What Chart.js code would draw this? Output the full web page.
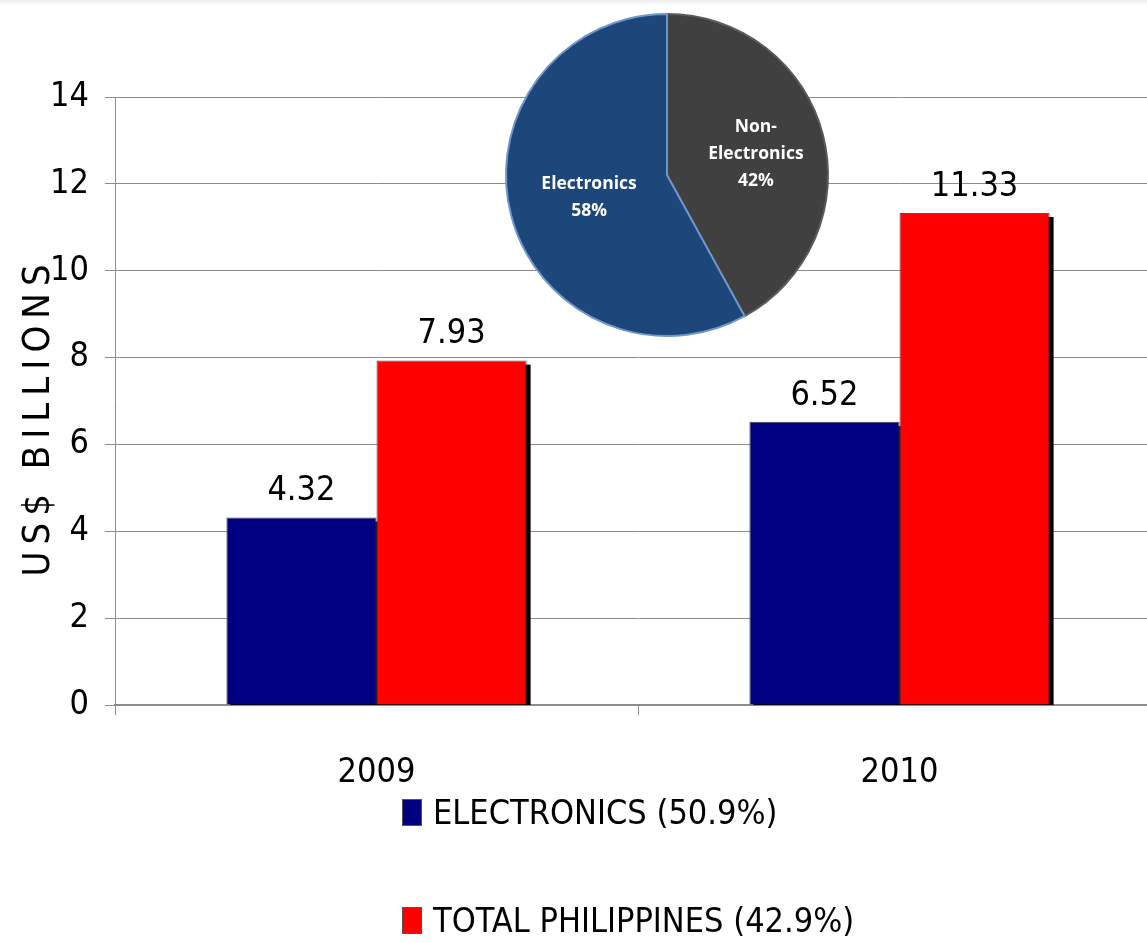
<!DOCTYPE html>
<html>
<head>
<meta charset="utf-8">
<script src="https://cdn.jsdelivr.net/npm/chart.js@4.4.1/dist/chart.umd.min.js"></script>
<style>
    html, body { margin: 0; padding: 0; background: #fff; overflow: hidden; }
    #wrap { position: relative; width: 1147px; height: 943px; overflow: hidden; }
    #topEdge { position: absolute; left: 0; top: 0; width: 1147px; height: 5px; background: linear-gradient(#ececec, #fff); }
    #barBox { position: absolute; left: 0; top: 0; width: 1180px; height: 943px; }
    #pieBox { position: absolute; left: 497px; top: 5px; width: 340px; height: 340px; }
    #legend { position: absolute; left: 402px; top: 787px; font-family: "Liberation Sans Narrow", "DejaVu Sans Condensed", sans-serif; font-size: 34px; color: #000; }
    .item { display: flex; align-items: center; height: 50px; margin-bottom: 58px; }
    .swatch { width: 20px; height: 27px; margin-right: 11px; box-sizing: border-box; border: 1px solid #555; }
</style>
</head>
<body>
<div id="wrap">
    <div id="topEdge"></div>
    <div id="barBox"><canvas id="barChart" width="1180" height="943"></canvas></div>
    <div id="pieBox"><canvas id="pieChart" width="340" height="340"></canvas></div>
    <div id="legend"></div>
</div>
<script>
// bar chart data
const years = ["2009", "2010"];
const electronics = [4.32, 6.52];
const totalPhilippines = [7.93, 11.33];
const seriesNames = ["ELECTRONICS (50.9%)", "TOTAL PHILIPPINES (42.9%)"];
const seriesColors = ["#000080", "#ff0000"];
const yTitle = "US$ BILLIONS";

// inset pie data (drawn clockwise from 12 o'clock)
const pieLabels = [["Non-", "Electronics"], ["Electronics"]];
const pieShares = [42, 58];
const pieColors = ["#404040", "#1d477b"];
const pieBorders = ["#5a5a5a", "#6f97cc"];

const narrow = '"Liberation Sans Narrow", "DejaVu Sans Condensed", sans-serif';

// small drop shadow to the lower right of each bar
const barShadow = {
    id: "barShadow",
    beforeDatasetsDraw(chart) {
        const ctx = chart.ctx;
        const bottom = chart.chartArea.bottom;
        ctx.save();
        ctx.fillStyle = "#000";
        chart.data.datasets.forEach((ds, i) => {
            chart.getDatasetMeta(i).data.forEach((bar) => {
                const left = bar.x - bar.width / 2 + 4;
                ctx.fillRect(left, bar.y + 4, bar.width, bottom - bar.y - 4);
            });
        });
        ctx.restore();
    },
};

// value written above every bar
const valueLabels = {
    id: "valueLabels",
    afterDatasetsDraw(chart) {
        const ctx = chart.ctx;
        ctx.save();
        ctx.font = "34px " + narrow;
        ctx.fillStyle = "#000";
        ctx.textAlign = "center";
        ctx.textBaseline = "bottom";
        chart.data.datasets.forEach((ds, i) => {
            chart.getDatasetMeta(i).data.forEach((bar, j) => {
                ctx.fillText(ds.data[j].toFixed(2), bar.x, bar.y - 9);
            });
        });
        ctx.restore();
    },
};

// letter-spaced vertical axis title
const spacedTitle = {
    id: "spacedTitle",
    afterDraw(chart) {
        const ctx = chart.ctx;
        const area = chart.chartArea;
        ctx.save();
        ctx.font = "38px " + narrow;
        ctx.letterSpacing = "7px";
        ctx.fillStyle = "#000";
        ctx.textAlign = "center";
        ctx.textBaseline = "middle";
        ctx.translate(39, (area.top + area.bottom) / 2 + 19);
        ctx.rotate(-Math.PI / 2);
        ctx.fillText(yTitle, 3, 0);
        ctx.restore();
    },
};

new Chart(document.getElementById("barChart").getContext("2d"), {
    type: "bar",
    data: {
        labels: years,
        datasets: [
            {
                label: seriesNames[0],
                data: electronics,
                backgroundColor: seriesColors[0],
                borderColor: "#444",
                borderWidth: 1,
            },
            {
                label: seriesNames[1],
                data: totalPhilippines,
                backgroundColor: seriesColors[1],
                borderColor: "#555",
                borderWidth: 1,
            },
        ],
    },
    options: {
        responsive: false,
        animation: false,
        layout: { padding: { top: 97, right: 19, bottom: 0, left: 0 } },
        datasets: {
            bar: { barPercentage: 1, categoryPercentage: 0.574 },
        },
        scales: {
            y: {
                min: 0,
                max: 14,
                ticks: {
                    stepSize: 2,
                    color: "#000",
                    padding: 16,
                    font: { family: narrow, size: 34 },
                },
                grid: { color: "#8c8c8c", tickLength: 10 },
                border: { color: "#8c8c8c" },
                afterFit(scale) {
                    scale.width = 115;
                },
            },
            x: {
                ticks: {
                    color: "#000",
                    padding: 38,
                    font: { family: narrow, size: 34 },
                },
                grid: { drawOnChartArea: false, color: "#8c8c8c", tickLength: 10 },
                border: { color: "#8c8c8c", width: 2 },
                afterFit(scale) {
                    scale.height = 238;
                },
            },
        },
        plugins: {
            legend: { display: false },
            tooltip: { enabled: false },
        },
    },
    plugins: [barShadow, valueLabels, spacedTitle],
});

// white labels inside the pie slices
const pieText = {
    id: "pieText",
    afterDatasetsDraw(chart) {
        const ctx = chart.ctx;
        ctx.save();
        ctx.font = "bold 17.5px 'Open Sans', sans-serif";
        ctx.fillStyle = "#fff";
        ctx.textAlign = "center";
        ctx.textBaseline = "middle";
        chart.getDatasetMeta(0).data.forEach((arc, i) => {
            const mid = (arc.startAngle + arc.endAngle) / 2;
            const r = arc.outerRadius * (i === 0 ? 0.57 : 0.5);
            const cx = arc.x + Math.cos(mid) * r;
            const cy = arc.y + Math.sin(mid) * r;
            const lines = pieLabels[i].concat([pieShares[i] + "%"]);
            const lh = 27;
            lines.forEach((line, k) => {
                ctx.fillText(line, cx, cy + 2 + (k - (lines.length - 1) / 2) * lh);
            });
        });
        ctx.restore();
    },
};

new Chart(document.getElementById("pieChart").getContext("2d"), {
    type: "pie",
    data: {
        labels: pieLabels.map((l) => l.join(" ")),
        datasets: [
            {
                data: pieShares,
                backgroundColor: pieColors,
                borderColor: pieBorders,
                borderWidth: 2,
            },
        ],
    },
    options: {
        responsive: false,
        animation: false,
        layout: { padding: 8 },
        plugins: {
            legend: { display: false },
            tooltip: { enabled: false },
        },
    },
    plugins: [pieText],
});

// legend, one series per row
const legend = document.getElementById("legend");
seriesNames.forEach((name, i) => {
    const row = document.createElement("div");
    row.className = "item";
    const sw = document.createElement("span");
    sw.className = "swatch";
    sw.style.background = seriesColors[i];
    const txt = document.createElement("span");
    txt.textContent = name;
    row.appendChild(sw);
    row.appendChild(txt);
    legend.appendChild(row);
});
</script>
</body>
</html>
